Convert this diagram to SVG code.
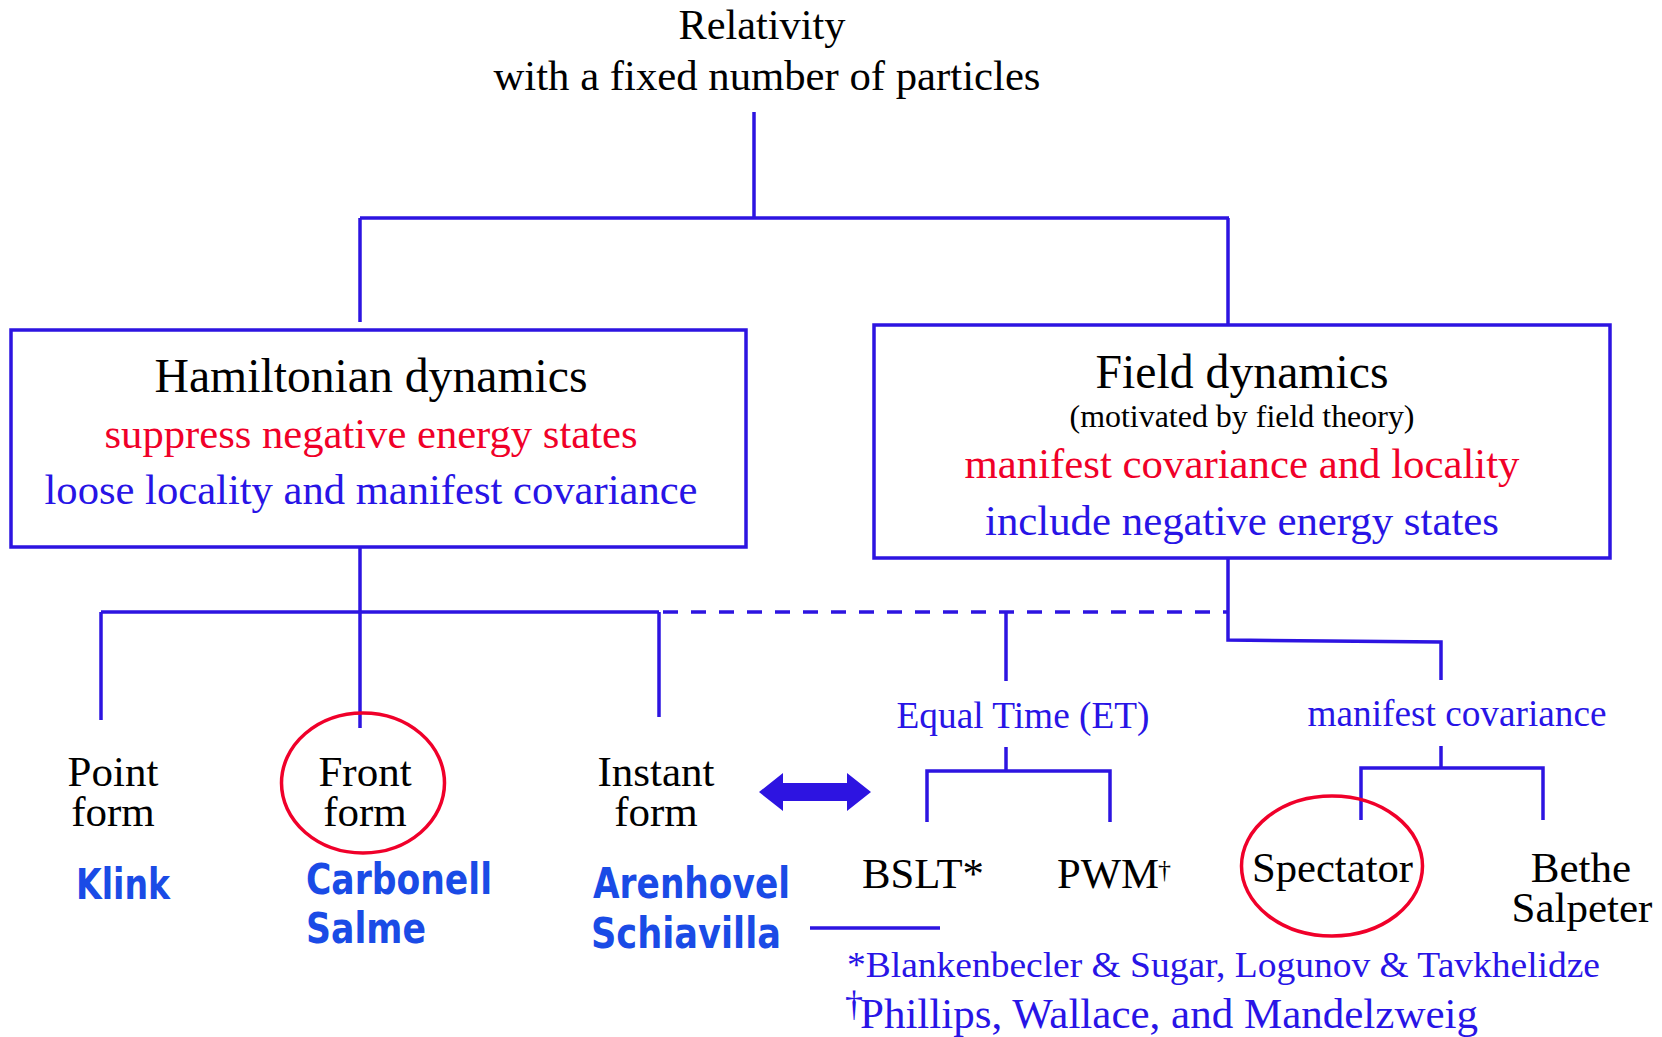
<svg xmlns="http://www.w3.org/2000/svg" width="1662" height="1037" viewBox="0 0 1662 1037">
<style>
.s{font-family:"Liberation Serif","Times New Roman",serif;fill:#000}
.blk{fill:#000}
.red{fill:#f00028}
.blu{fill:#2814e6}
.c{font-family:"DejaVu Sans","Liberation Sans",sans-serif;font-weight:bold;fill:#1a4be6;font-size:42px}
.ln{stroke:#2d14e1;stroke-width:3.5;fill:none}
.box{stroke:#2d14e1;stroke-width:3.5;fill:#fff}
.ell{stroke:#f0002a;stroke-width:3.5;fill:none}
.mid{text-anchor:middle}
</style>
<rect width="1662" height="1037" fill="#fff"/>
<g id="connectors">
<line class="ln" x1="754" y1="112" x2="754" y2="218"/>
<line class="ln" x1="360" y1="218" x2="1229" y2="218"/>
<line class="ln" x1="360" y1="218" x2="360" y2="322"/>
<line class="ln" x1="1228" y1="218" x2="1228" y2="325"/>
<line class="ln" x1="360" y1="547" x2="360" y2="728"/>
<line class="ln" x1="101" y1="612" x2="659" y2="612"/>
<line class="ln" x1="101" y1="612" x2="101" y2="720"/>
<line class="ln" x1="659" y1="612" x2="659" y2="717"/>
<line class="ln" x1="663" y1="612" x2="1228" y2="612" stroke-dasharray="15 13"/>
<polyline class="ln" points="1228,558 1228,640 1441,642 1441,680"/>
<line class="ln" x1="1006" y1="612" x2="1006" y2="681"/>
<line class="ln" x1="1006" y1="747" x2="1006" y2="771"/>
<polyline class="ln" points="927,822 927,771 1110,771 1110,822"/>
<line class="ln" x1="1441" y1="746" x2="1441" y2="768"/>
<polyline class="ln" points="1361,820 1361,768 1543,768 1543,820"/>
<polygon fill="#2d14e1" points="759,792 783,773 783,783 847,783 847,773 871,792 847,811 847,801 783,801 783,811"/>
<line class="ln" x1="810" y1="928" x2="940" y2="928" stroke-width="3"/>
</g>
<g id="title">
<text class="s mid" x="762" y="39" font-size="42.7" textLength="167" lengthAdjust="spacingAndGlyphs">Relativity</text>
<text class="s mid" x="767" y="90" font-size="42.7" textLength="547" lengthAdjust="spacingAndGlyphs">with a fixed number of particles</text>
</g>
<g id="hamiltonian">
<rect class="box" x="11" y="330" width="735" height="217"/>
<text class="s mid" x="371" y="392" font-size="48" textLength="433" lengthAdjust="spacingAndGlyphs">Hamiltonian dynamics</text>
<text class="s mid red" x="371" y="448" font-size="42.7" textLength="533" lengthAdjust="spacingAndGlyphs">suppress negative energy states</text>
<text class="s mid blu" x="371" y="504" font-size="42.7" textLength="653" lengthAdjust="spacingAndGlyphs">loose locality and manifest covariance</text>
</g>
<g id="field">
<rect class="box" x="874" y="325" width="736" height="233"/>
<text class="s mid" x="1242" y="388" font-size="48" textLength="293" lengthAdjust="spacingAndGlyphs">Field dynamics</text>
<text class="s mid" x="1242" y="427" font-size="32" textLength="345" lengthAdjust="spacingAndGlyphs">(motivated by field theory)</text>
<text class="s mid red" x="1242" y="478" font-size="42.7" textLength="555" lengthAdjust="spacingAndGlyphs">manifest covariance and locality</text>
<text class="s mid blu" x="1242" y="535" font-size="42.7" textLength="514" lengthAdjust="spacingAndGlyphs">include negative energy states</text>
</g>
<g id="point">
<text class="s mid" x="113" y="786" font-size="43">Point</text>
<text class="s mid" x="113" y="826" font-size="43">form</text>
<text class="c" x="76" y="899" textLength="94" lengthAdjust="spacingAndGlyphs">Klink</text>
</g>
<g id="front">
<ellipse class="ell" cx="363" cy="783" rx="81.5" ry="70"/>
<text class="s mid" x="365" y="786" font-size="43">Front</text>
<text class="s mid" x="365" y="826" font-size="43">form</text>
<text class="c" x="306" y="894" textLength="186" lengthAdjust="spacingAndGlyphs">Carbonell</text>
<text class="c" x="306" y="943" textLength="120" lengthAdjust="spacingAndGlyphs">Salme</text>
</g>
<g id="instant">
<text class="s mid" x="656" y="786" font-size="43">Instant</text>
<text class="s mid" x="656" y="826" font-size="43">form</text>
<text class="c" x="593" y="898" textLength="197" lengthAdjust="spacingAndGlyphs">Arenhovel</text>
<text class="c" x="591" y="948" textLength="190" lengthAdjust="spacingAndGlyphs">Schiavilla</text>
</g>
<g id="equal-time">
<text class="s mid blu" x="1023" y="728" font-size="37" textLength="253" lengthAdjust="spacingAndGlyphs">Equal Time (ET)</text>
</g>
<g id="manifest-covariance">
<text class="s mid blu" x="1457" y="726" font-size="37" textLength="299" lengthAdjust="spacingAndGlyphs">manifest covariance</text>
</g>
<g id="bslt">
<text class="s" x="862" y="888" font-size="43" textLength="122" lengthAdjust="spacingAndGlyphs">BSLT*</text>
</g>
<g id="pwm">
<text class="s" x="1057" y="888" font-size="43" textLength="102" lengthAdjust="spacingAndGlyphs">PWM</text>
<text class="s" x="1158" y="878" font-size="26">†</text>
</g>
<g id="spectator">
<ellipse class="ell" cx="1332" cy="866" rx="90.5" ry="70"/>
<text class="s" x="1252" y="882" font-size="43" textLength="161" lengthAdjust="spacingAndGlyphs">Spectator</text>
</g>
<g id="bethe-salpeter">
<text class="s mid" x="1581" y="882" font-size="43">Bethe</text>
<text class="s mid" x="1582" y="922" font-size="43">Salpeter</text>
</g>
<g id="footnotes">
<text class="s blu" x="847" y="977" font-size="36.5" textLength="753" lengthAdjust="spacingAndGlyphs">*Blankenbecler &amp; Sugar, Logunov &amp; Tavkhelidze</text>
<text class="s blu" x="845" y="1016" font-size="36">†</text>
<text class="s blu" x="860" y="1028" font-size="43" textLength="618" lengthAdjust="spacingAndGlyphs">Phillips, Wallace, and Mandelzweig</text>
</g>
</svg>
